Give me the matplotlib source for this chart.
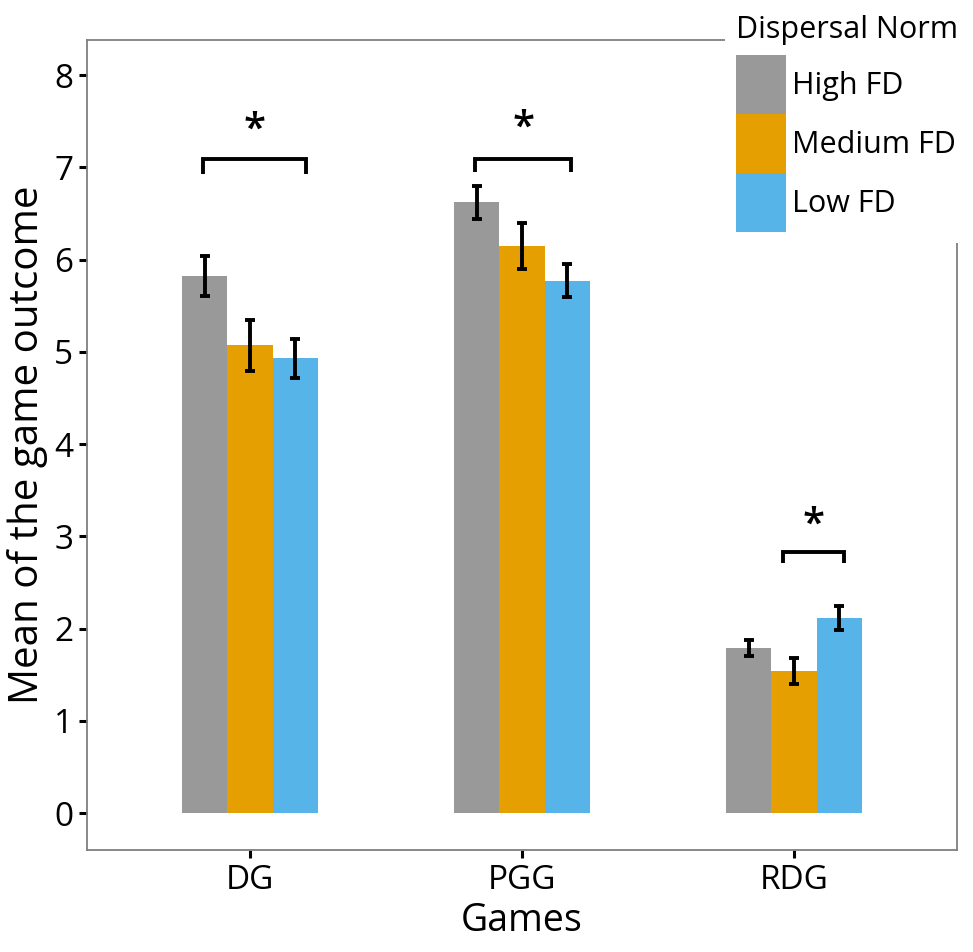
import matplotlib
matplotlib.use("Agg")
import matplotlib.pyplot as plt
from matplotlib.patches import Patch
import numpy as np

plt.rcParams['font.family'] = ['Open Sans', 'DejaVu Sans']

games = ["DG", "PGG", "RDG"]
norms = ["High FD", "Medium FD", "Low FD"]
colors = ["#999999", "#E69F00", "#56B4E9"]
means = {
    "High FD":   [5.82, 6.62, 1.79],
    "Medium FD": [5.07, 6.15, 1.54],
    "Low FD":    [4.93, 5.77, 2.12],
}
errs = {
    "High FD":   [0.22, 0.18, 0.09],
    "Medium FD": [0.28, 0.25, 0.14],
    "Low FD":    [0.21, 0.18, 0.13],
}
# significance brackets
sig_game = [0, 1, 2]
sig_x0 = [-0.172, -0.172, -0.041]
sig_x1 = [0.205, 0.182, 0.183]
sig_y = [7.09, 7.09, 2.83]
sig_drop = [0.16, 0.14, 0.12]
sig_star_y = [7.40, 7.42, 3.11]
yticks = [0, 1, 2, 3, 4, 5, 6, 7, 8]

fig = plt.figure(figsize=(9.73, 9.52), dpi=100)
ax = fig.add_axes([87/973, 1 - 850/952, (957-87)/973, (850-40)/952])

xpos = np.arange(1, len(games) + 1)
bw = 0.5 / 3
for i, n in enumerate(norms):
    x = xpos + (i - 1) * bw
    ax.bar(x, means[n], width=bw, color=colors[i], edgecolor='none', zorder=2)
    ax.errorbar(x, means[n], yerr=errs[n], fmt='none', ecolor='black',
                elinewidth=2.8, capsize=3.4, capthick=2.8, zorder=3)

for g, a, b, y, d, sy in zip(sig_game, sig_x0, sig_x1, sig_y, sig_drop, sig_star_y):
    c = xpos[g]
    ax.plot([c + a, c + a, c + b, c + b], [y - d, y, y, y - d], color='black',
            lw=2.8, solid_capstyle='butt', solid_joinstyle='miter', zorder=3)
    ax.text(c + (a + b) / 2, sy, "*", ha='center', va='center',
            fontsize=29, fontweight='semibold', color='black')

ax.set_xlim(0.4, 3.6)
ax.set_ylim(-0.4, 8.38)
ax.set_xticks(xpos)
ax.set_xticklabels(games)
ax.set_yticks(yticks)
ax.tick_params(axis='both', labelsize=24, length=6, width=2.2, color='black', pad=4)
for s in ax.spines.values():
    s.set_color('#7f7f7f')
    s.set_linewidth(1.3)
ax.set_xlabel("Games", fontsize=27, labelpad=4)
ax.set_ylabel("Mean of the game outcome", fontsize=29, labelpad=4)

handles = [Patch(facecolor=c, edgecolor='none') for c in colors]
leg = fig.legend(handles, norms, title="Dispersal Norm", loc='upper right',
                 bbox_to_anchor=(1.0, 1.0), fontsize=22, title_fontsize=22,
                 frameon=True, fancybox=False, edgecolor='none', facecolor='white',
                 framealpha=1.0, handlelength=1.65, handleheight=2.6,
                 labelspacing=0.0, handletextpad=0.2, borderpad=0.35,
                 borderaxespad=0.15)
leg._legend_box.align = "left"
leg._legend_box.sep = 7
leg.set_zorder(10)

fig.savefig("out.png", dpi=100, facecolor='white')
